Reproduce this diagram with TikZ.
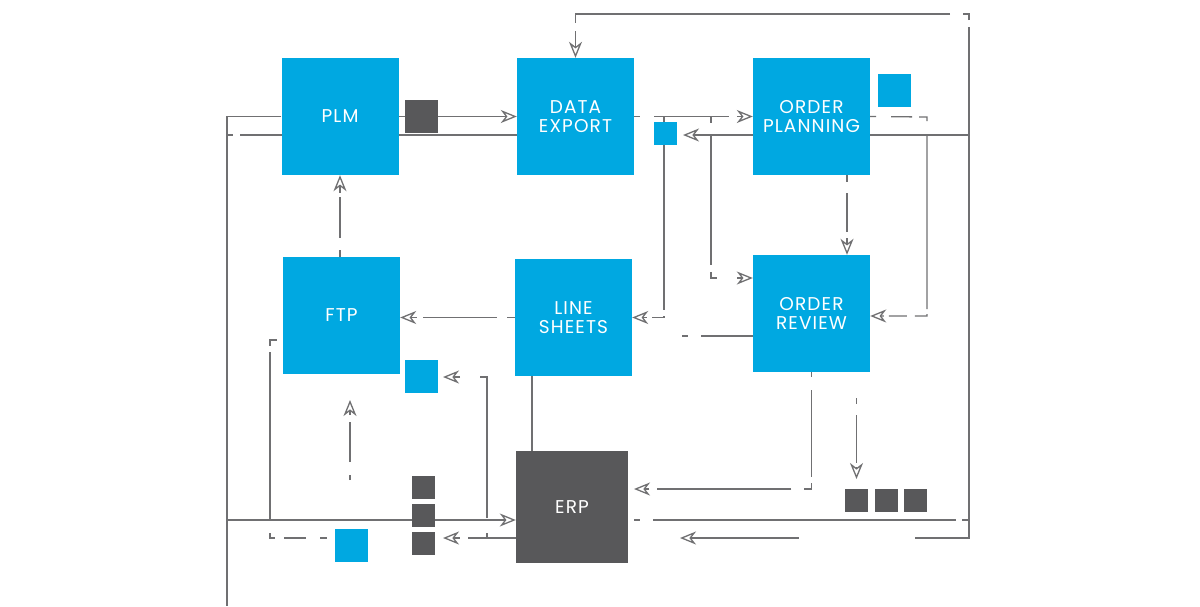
\documentclass[tikz,border=0pt]{standalone}
\usepackage{fontspec}
\setmainfont{Poppins}[LetterSpace=6]
\usetikzlibrary{arrows.meta,backgrounds,positioning}
\definecolor{dsblue}{RGB}{0,168,225}
\definecolor{dsdark}{RGB}{88,88,90}
\definecolor{dsline}{RGB}{112,112,114}

\begin{document}
\begin{tikzpicture}[x=1pt, y=-1pt, >={Stealth[open, length=16pt, width=13pt, inset=5pt]}]
	\tikzstyle{Box}  = [rectangle, fill=dsblue, minimum size=117pt, inner sep=0pt, text=white, align=center, font=\fontsize{18.5}{19}\selectfont]
	\tikzstyle{Hub}  = [Box, fill=dsdark, minimum size=112pt]
	\tikzstyle{Tag}  = [rectangle, fill=dsblue, minimum size=33pt, inner sep=0pt]
	\tikzstyle{Chip} = [rectangle, fill=dsdark, minimum size=23pt, inner sep=0pt]
	\tikzstyle{Wire} = [draw=dsline, line width=1.3pt]

	\useasboundingbox (0,0) rectangle (1200,606);

	% main blocks
	\node (plm) at (340, 116.5) [Box] {PLM};
	\node (dex) at (575.5, 116.5) [Box] {DATA\\EXPORT};
	\node (opl) at (811.5, 116.5) [Box] {ORDER\\PLANNING};
	\node (ftp) at (341.5, 315.5) [Box] {FTP};
	\node (lsh) at (573.5, 317.5) [Box] {LINE\\SHEETS};
	\node (orv) at (811.5, 313.5) [Box] {ORDER\\REVIEW};
	\node (erp) at (572, 507) [Hub] {ERP};

	% small squares
	\node (s1) at (421.5, 116.5) [Tag][fill=dsdark] {};
	\node (s2) at (665, 133.5) [Chip][fill=dsblue] {};
	\node (s3) at (894.5, 90.5) [Tag] {};
	\node (s4) at (421.5, 376.5) [Tag] {};
	\node (s5) at (423.5, 487) [Chip] {};
	\node (s6) at (423.5, 515) [Chip] {};
	\node (s7) at (423.5, 543) [Chip] {};
	\node (s8) at (351.5, 545) [Tag] {};
	\node (s9) at (856.5, 500.5) [Chip] {};
	\node (s10) at (886.5, 500.5) [Chip] {};
	\node (s11) at (915.5, 500.5) [Chip] {};

	% bus points and free ends
	\coordinate (lt) at (227, 135);
	\coordinate (le) at (227, 520);
	\coordinate (lb) at (227, 606);
	\coordinate (rt) at (969, 14);
	\coordinate (r1) at (969, 135);
	\coordinate (r2) at (969, 520);
	\coordinate (rb) at (969, 538);
	\coordinate (c1) at (680, 538);
	\coordinate (c2) at (683, 135);
	\coordinate (c3) at (664, 117);
	\coordinate (c4) at (711, 117);
	\coordinate (c5) at (711, 278);
	\coordinate (c6) at (847, 200);
	\coordinate (c7) at (927, 117);
	\coordinate (c8) at (927, 316);
	\coordinate (c9) at (682, 336);
	\coordinate (c10) at (811.5, 489);
	\coordinate (c11) at (634, 489);
	\coordinate (c12) at (856.5, 398);
	\coordinate (c13) at (856.5, 479);
	\coordinate (c14) at (487, 538);
	\coordinate (c15) at (443, 538);
	\coordinate (c16) at (487, 377);
	\coordinate (c17) at (443, 377);
	\coordinate (c18) at (350, 480);
	\coordinate (c19) at (350, 400);
	\coordinate (c20) at (270, 538);
	\coordinate (c21) at (270, 340);
	\coordinate (c22) at (532, 400);

	\begin{pgfonlayer}{background}
		% left bus
		\draw [-] (plm.west) -| (lb) [Wire];
		\draw [-] (lt) -- (lt -| dex.west) [Wire, dash pattern=on 6pt off 7pt on 400pt];
		\draw [->] (le) -- (le -| erp.west) [Wire];
		\draw [->] (plm.east) -- (dex.west) [Wire];

		% right bus
		\draw [->] (r1) -- (rt) -- (dex.north |- rt) -- (dex.north) [Wire, dash pattern=on 108pt off 7pt on 12pt off 13pt on 383.5pt off 8pt on 100pt];
		\draw [->] (opl.east |- r1) -- (r1) -- (rb) -- (c1) [Wire, dash pattern=on 556pt off 116pt on 200pt];
		\draw [-] (erp.east |- r2) -- (r2) [Wire, dash pattern=on 0pt off 6pt on 6pt off 13pt on 303pt off 6pt on 20pt];

		% planning and review
		\draw [->] (dex.east) -- (opl.west) [Wire, dash pattern=on 6pt off 14pt on 75pt off 8pt on 100pt];
		\draw [->] (opl.west |- c2) -- (c2) [Wire];
		\draw [->] (c3) |- (lsh.east) [Wire, dash pattern=on 193pt off 6pt on 14pt off 5pt on 20pt];
		\draw [->] (c4) -- (c5) -- (c5 -| orv.west) [Wire, dash pattern=on 6pt off 12pt on 130pt off 7pt on 12pt off 20pt on 20pt];
		\draw [->] (opl.south -| c6) -- (orv.north -| c6) [Wire, dash pattern=on 7pt off 11pt on 39pt off 6pt on 20pt];
		\draw [->] (opl.east) -- (c7) -- (c8) -- (c8 -| orv.east) [Wire, dash pattern=on 6pt off 15pt on 21pt off 7pt on 12pt off 13pt on 175pt off 5pt on 14pt off 8pt on 18pt off 5pt on 30pt];
		\draw [-] (orv.west |- c9) -- (c9) [Wire, dash pattern=on 52pt off 13pt on 6pt];
		\draw [->] (orv.south) -- (c10) -- (c11) [Wire, dash pattern=on 5pt off 13pt on 87pt off 6pt on 13pt off 13pt on 134pt off 8pt on 20pt];
		\draw [->] (c12) -- (c13) [Wire, dash pattern=on 6pt off 11pt on 48pt off 4pt on 20pt];

		% erp, ftp and line sheets
		\draw [->] (c14 -| erp.west) -- (c15) [Wire, dash pattern=on 48pt off 8pt on 20pt];
		\draw [->] (c14) -- (c16) -- (c17) [Wire, dash pattern=on 5pt off 15pt on 148pt off 20pt on 20pt];
		\draw [->] (lsh.west) -- (lsh.west -| ftp.east) [Wire, dash pattern=on 8pt off 10pt on 74pt off 6pt on 20pt];
		\draw [->] (plm.south |- ftp.north) -- (plm.south) [Wire, dash pattern=on 7pt off 12pt on 41pt off 4pt on 20pt];
		\draw [->] (c18) -- (c19) [Wire, dash pattern=on 5pt off 13pt on 40pt off 7pt on 20pt];
		\draw [-] (c20 -| s8.west) -- (c20) -- (c21) -- (c21 -| ftp.west) [Wire, dash pattern=on 0pt off 8pt on 7pt off 14pt on 22pt off 9pt on 10pt off 13pt on 168pt off 6pt on 13pt off 10pt];
		\draw [-] (lsh.south -| c22) -- (erp.north -| c22) [Wire];
	\end{pgfonlayer}
\end{tikzpicture}
\end{document}
